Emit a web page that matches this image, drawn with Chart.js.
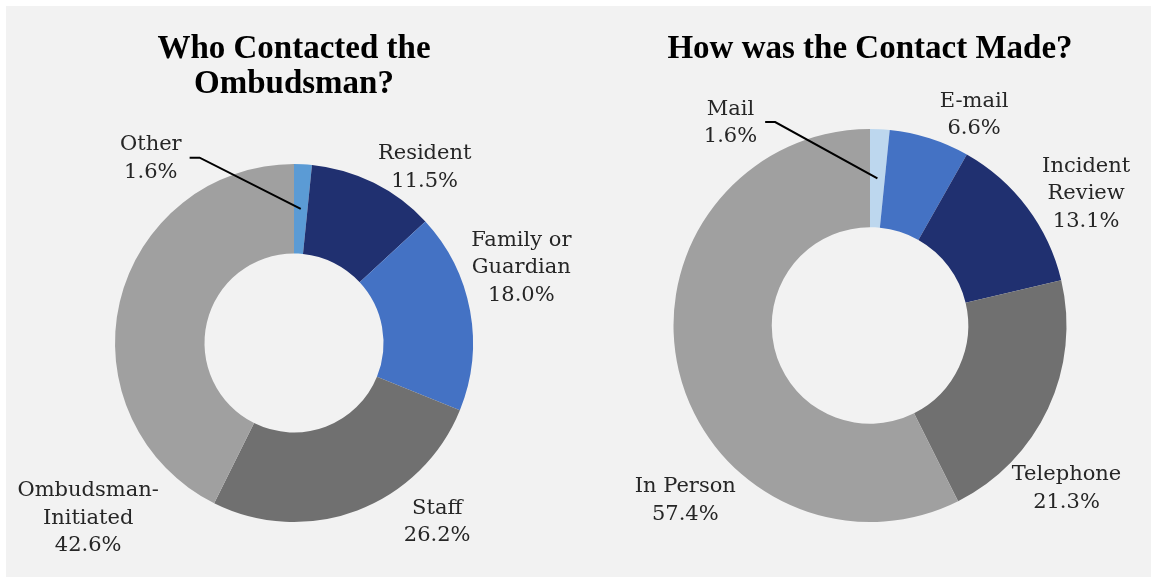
<!DOCTYPE html>
<html>
<head>
<meta charset="utf-8">
<script src="https://cdn.jsdelivr.net/npm/chart.js@4.4.0/dist/chart.umd.min.js"></script>
<style>
  html, body { margin: 0; padding: 0; background: #fff; }
  #panel { position: absolute; left: 6px; top: 6px; width: 1145px; height: 571px; background: #f2f2f2; }
  canvas { position: absolute; top: 0; }
  #who { left: 0; }
  #how { left: 580px; }
</style>
</head>
<body>
<div id="panel"></div>
<canvas id="who" width="580" height="577"></canvas>
<canvas id="how" width="571" height="577"></canvas>
<script>
// who contacted the ombudsman
var whoLabels = [['Other'], ['Resident'], ['Family or', 'Guardian'], ['Staff'], ['Ombudsman-', 'Initiated']];
var whoValues = [1.6, 11.5, 18.0, 26.2, 42.6];
var whoColors = ['#5b9bd5', '#203070', '#4472c4', '#707070', '#a0a0a0'];

// how the contact was made
var howLabels = [['Mail'], ['E-mail'], ['Incident', 'Review'], ['Telephone'], ['In Person']];
var howValues = [1.6, 6.6, 13.1, 21.3, 57.4];
var howColors = ['#bdd7ee', '#4472c4', '#203070', '#707070', '#a0a0a0'];

// label block centres, in units of the outer radius from the doughnut centre
var whoLabelPos = [[-0.80, -1.03], [0.73, -0.98], [1.27, -0.42], [0.80, 1.00], [-1.15, 0.98]];
var howLabelPos = [[-0.71, -1.03], [0.53, -1.07], [1.10, -0.67], [1.00, 0.83], [-0.94, 0.89]];
var whoLeader = [true, false, false, false, false];
var howLeader = [true, false, false, false, false];

var LABEL_FONT = '21px "DejaVu Serif"';
var LINE = 27.5;

var sliceLabels = {
    id: 'sliceLabels',
    afterDatasetsDraw: function(chart, args, opts) {
        var ctx = chart.ctx;
        var meta = chart.getDatasetMeta(0);
        var values = chart.data.datasets[0].data;
        ctx.save();
        ctx.font = LABEL_FONT;
        ctx.fillStyle = '#262626';
        ctx.textAlign = 'center';
        ctx.textBaseline = 'middle';
        meta.data.forEach(function(arc, i) {
            var p = arc.getProps(['x', 'y', 'startAngle', 'endAngle', 'innerRadius', 'outerRadius'], true);
            var lines = chart.data.labels[i].concat([values[i].toFixed(1) + '%']);
            var cx = p.x + opts.pos[i][0] * p.outerRadius;
            var cy = p.y + opts.pos[i][1] * p.outerRadius;
            var top = cy - (lines.length - 1) * LINE / 2;
            var widest = 0;
            lines.forEach(function(t, k) {
                ctx.fillText(t, cx, top + k * LINE);
                widest = Math.max(widest, ctx.measureText(t).width);
            });
            if (opts.leader[i]) {
                var a = (p.startAngle + p.endAngle) / 2;
                var r = (p.innerRadius + p.outerRadius) / 2;
                var sx = cx + widest / 2 + 8;
                ctx.beginPath();
                ctx.moveTo(sx, cy - 1);
                ctx.lineTo(sx + 10, cy - 1);
                ctx.lineTo(p.x + Math.cos(a) * r, p.y + Math.sin(a) * r);
                ctx.lineWidth = 2;
                ctx.strokeStyle = '#000';
                ctx.stroke();
            }
        });
        ctx.restore();
    }
};

function MakeDoughnut(id, labels, values, colors, title, pos, leader, padding, titlePad) {
    return new Chart(document.getElementById(id), {
        type: 'doughnut',
        data: {
            labels: labels,
            datasets: [{
                data: values,
                backgroundColor: colors,
                borderWidth: 0
            }]
        },
        options: {
            responsive: false,
            animation: false,
            cutout: '50%',
            layout: { padding: padding },
            plugins: {
                legend: { display: false },
                tooltip: { enabled: false },
                title: {
                    display: true,
                    text: title,
                    color: '#000',
                    font: { family: '"Liberation Serif"', size: 33, weight: 'bold', lineHeight: 35 / 33 },
                    padding: titlePad
                },
                sliceLabels: { pos: pos, leader: leader }
            }
        },
        plugins: [sliceLabels]
    });
}

var whoChart = MakeDoughnut('who', whoLabels, whoValues, whoColors,
    ['Who Contacted the', 'Ombudsman?'], whoLabelPos, whoLeader,
    { left: 20, right: 12, top: 0, bottom: 55 }, { top: 31.5, bottom: 62.5 });
var howChart = MakeDoughnut('how', howLabels, howValues, howColors,
    'How was the Contact Made?', howLabelPos, howLeader,
    { left: 15, right: 6, top: 0, bottom: 55 }, { top: 31.5, bottom: 62.5 });
</script>
</body>
</html>
